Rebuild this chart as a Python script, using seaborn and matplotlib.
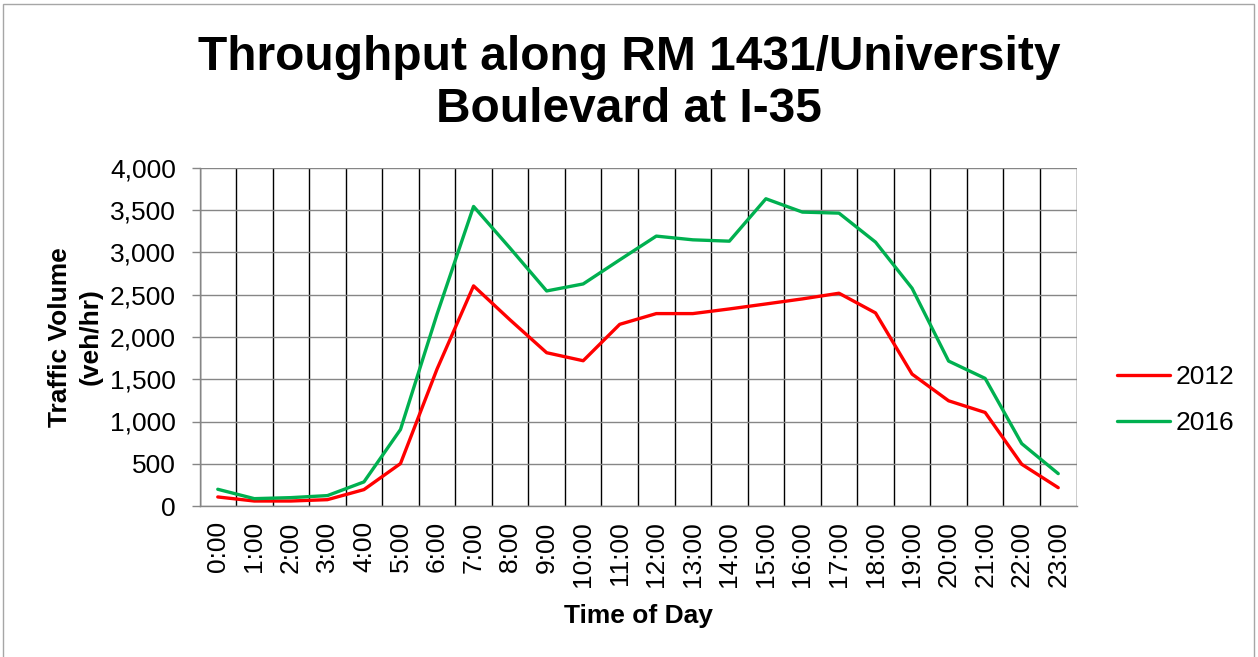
import matplotlib
matplotlib.use('Agg')
import matplotlib.pyplot as plt
import matplotlib.patches as patches
import matplotlib.ticker as mticker
import seaborn as sns
import pandas as pd

# hourly throughput values
hours = list(range(24))
hour_labels = [f"{h}:00" for h in hours]
vol_2012 = [107, 59, 59, 75, 194, 502, 1620, 2605, 2202, 1814, 1719, 2150,
            2277, 2277, 2332, 2391, 2451, 2518, 2285, 1561, 1245, 1107, 494, 217]
vol_2016 = [198, 87, 99, 123, 285, 905, 2270, 3545, 3051, 2545, 2628, 2913,
            3194, 3150, 3134, 3636, 3478, 3466, 3123, 2577, 1715, 1510, 739, 383]
years = ["2012", "2016"]
line_colors = ["#FF0000", "#00B050"]

df = pd.DataFrame({
    "hour": hours * 2,
    "volume": vol_2012 + vol_2016,
    "year": [years[0]] * 24 + [years[1]] * 24,
})

sns.set_style("white")
plt.rcParams['font.family'] = ['Liberation Sans', 'DejaVu Sans']
plt.rcParams['text.color'] = 'black'
plt.rcParams['axes.labelcolor'] = 'black'
plt.rcParams['xtick.color'] = 'black'
plt.rcParams['ytick.color'] = 'black'

fig = plt.figure(figsize=(12.58, 6.57), dpi=100)
ax = fig.add_axes([199.5 / 1258, 1 - 506 / 657, 877 / 1258, 338 / 657])

sns.lineplot(data=df, x="hour", y="volume", hue="year", palette=line_colors,
             linewidth=2.4, ax=ax, legend=True)

ax.set_xlim(-0.5, 23.5)
ax.set_ylim(0, 4000)
ax.set_xticks(hours)
ax.set_xticklabels(hour_labels, rotation=90, fontsize=19)
ax.set_xticks([h - 0.5 for h in hours] + [23.5], minor=True)
ax.set_yticks(range(0, 4001, 500))
ax.yaxis.set_major_formatter(mticker.FuncFormatter(lambda v, p: f"{int(v):,}"))
ax.tick_params(axis='y', labelsize=19, length=6, width=1, color="#868686",
               labelcolor="black", pad=11, left=True)
ax.tick_params(axis='x', which='major', length=0, pad=11, labelcolor="black")
ax.tick_params(axis='x', which='minor', length=0)

ax.grid(axis='y', which='major', color="#868686", linewidth=1)
ax.grid(axis='x', which='minor', color="black", linewidth=1)
ax.grid(axis='x', which='major', visible=False)
ax.set_axisbelow(True)

for side in ["top", "right"]:
    ax.spines[side].set_visible(False)
for side in ["left", "bottom"]:
    ax.spines[side].set_color("#868686")
    ax.spines[side].set_linewidth(1)

ax.set_xlabel("Time of Day", fontsize=19, fontweight="bold", labelpad=12)
ax.set_ylabel("Traffic Volume\n(veh/hr)", fontsize=19, fontweight="bold",
              labelpad=5, linespacing=1.35)

handles, labels = ax.get_legend_handles_labels()
ax.legend(handles, labels, loc="center left", bbox_to_anchor=(1.0193, 0.314),
          frameon=False, fontsize=19, handlelength=2.0, handletextpad=0.2,
          labelspacing=0.83)

fig.suptitle("Throughput along RM 1431/University\nBoulevard at I-35",
             x=0.5, y=1 - 83 / 657, va="center", fontsize=34.5,
             fontweight="bold", linespacing=1.2)

fig.patches.append(patches.Rectangle((3 / 1258, -0.01), 1251 / 1258, 1.01 - 4 / 657,
                                     transform=fig.transFigure, fill=False,
                                     edgecolor="#A6A6A6", linewidth=1))

fig.savefig("out.png", dpi=100)
plt.close()
